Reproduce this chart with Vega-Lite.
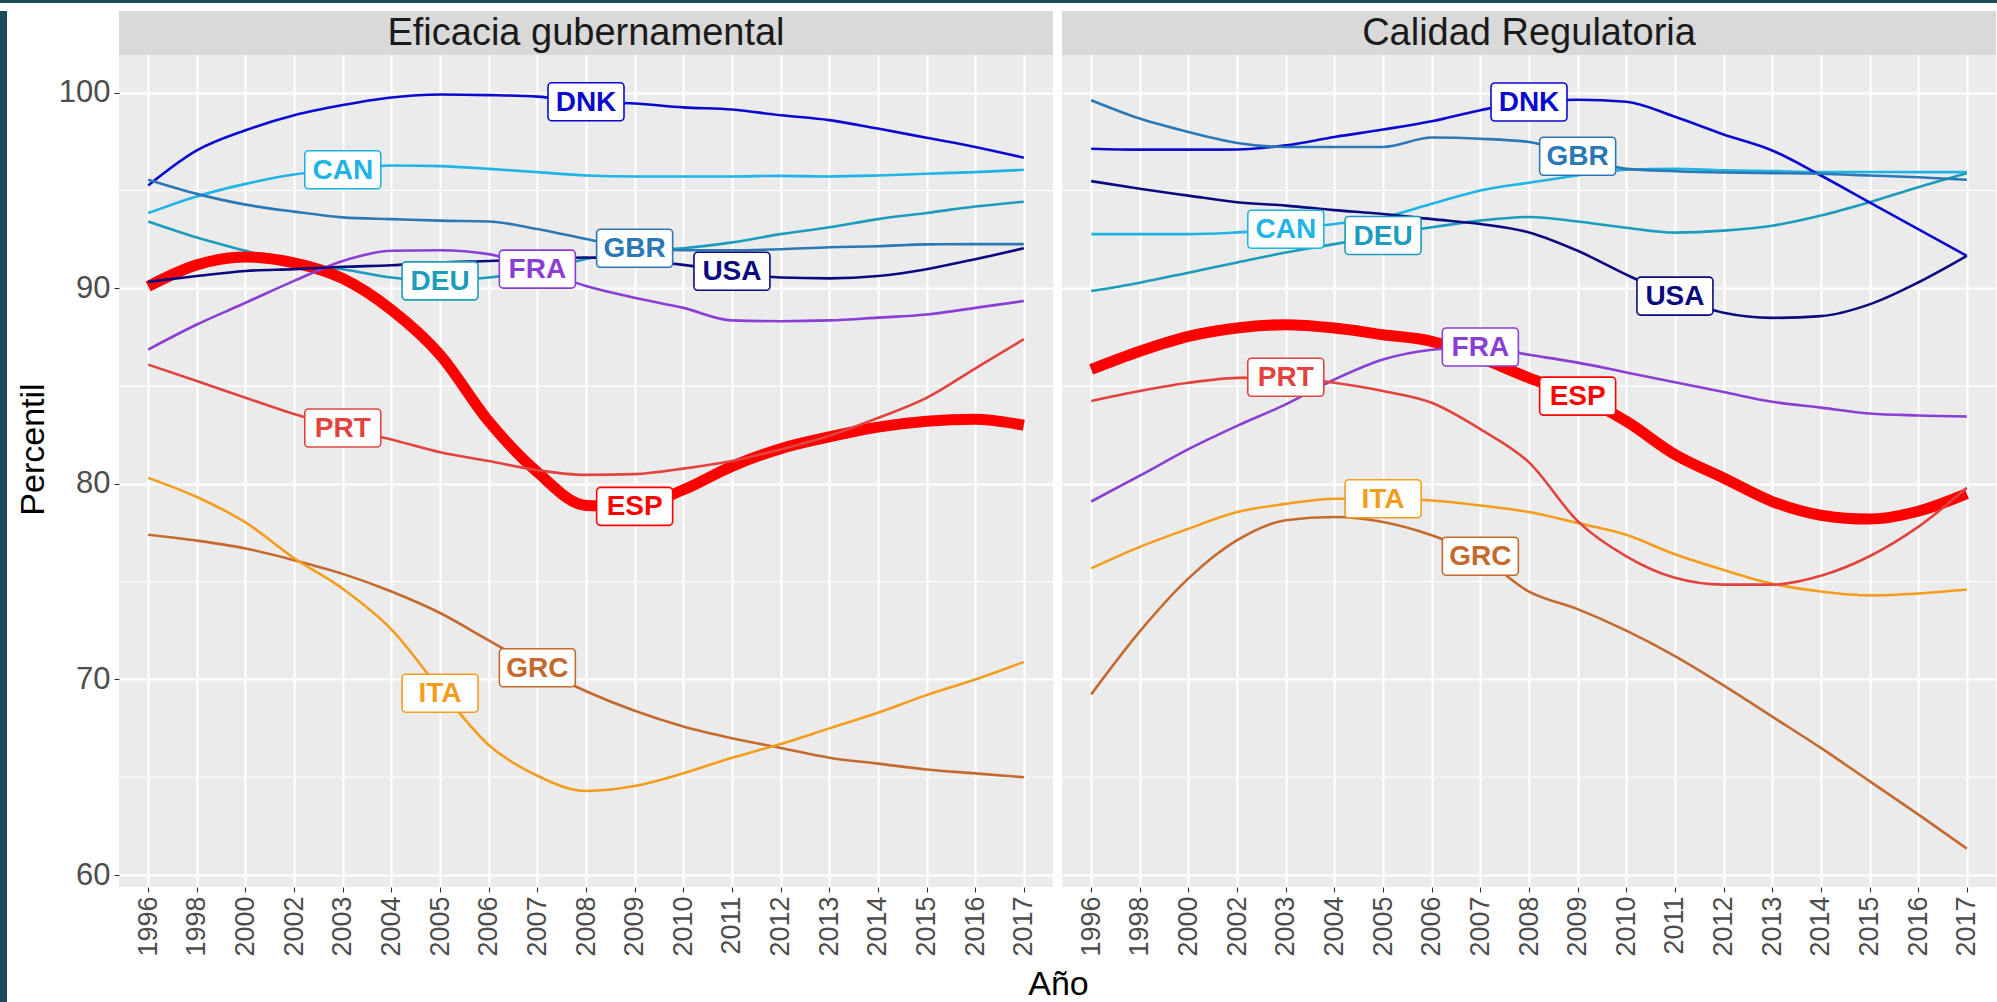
{
"$schema": "https://vega.github.io/schema/vega-lite/v6.json",
"background": "#FFFFFF",
"padding": 0,
"config": {"font": "Liberation Sans", "view": {"stroke": null}},
"datasets": {
"ef": [
{"pais":"CAN","anio":"1996","v":93.85},{"pais":"CAN","anio":"1998","v":94.7},{"pais":"CAN","anio":"2000","v":95.34},{"pais":"CAN","anio":"2002","v":95.82},{"pais":"CAN","anio":"2003","v":96.06},{"pais":"CAN","anio":"2004","v":96.28},{"pais":"CAN","anio":"2005","v":96.25},{"pais":"CAN","anio":"2006","v":96.11},{"pais":"CAN","anio":"2007","v":95.94},{"pais":"CAN","anio":"2008","v":95.77},{"pais":"CAN","anio":"2009","v":95.72},{"pais":"CAN","anio":"2010","v":95.72},{"pais":"CAN","anio":"2011","v":95.72},{"pais":"CAN","anio":"2012","v":95.75},{"pais":"CAN","anio":"2013","v":95.72},{"pais":"CAN","anio":"2014","v":95.77},{"pais":"CAN","anio":"2015","v":95.86},{"pais":"CAN","anio":"2016","v":95.94},{"pais":"CAN","anio":"2017","v":96.06},
{"pais":"DEU","anio":"1996","v":93.42},{"pais":"DEU","anio":"1998","v":92.6},{"pais":"DEU","anio":"2000","v":91.92},{"pais":"DEU","anio":"2002","v":91.23},{"pais":"DEU","anio":"2003","v":90.98},{"pais":"DEU","anio":"2004","v":90.55},{"pais":"DEU","anio":"2005","v":90.38},{"pais":"DEU","anio":"2006","v":90.55},{"pais":"DEU","anio":"2007","v":90.9},{"pais":"DEU","anio":"2008","v":91.5},{"pais":"DEU","anio":"2009","v":91.92},{"pais":"DEU","anio":"2010","v":92.05},{"pais":"DEU","anio":"2011","v":92.35},{"pais":"DEU","anio":"2012","v":92.77},{"pais":"DEU","anio":"2013","v":93.12},{"pais":"DEU","anio":"2014","v":93.54},{"pais":"DEU","anio":"2015","v":93.85},{"pais":"DEU","anio":"2016","v":94.18},{"pais":"DEU","anio":"2017","v":94.43},
{"pais":"DNK","anio":"1996","v":95.26},{"pais":"DNK","anio":"1998","v":97.05},{"pais":"DNK","anio":"2000","v":98.08},{"pais":"DNK","anio":"2002","v":98.85},{"pais":"DNK","anio":"2003","v":99.37},{"pais":"DNK","anio":"2004","v":99.76},{"pais":"DNK","anio":"2005","v":99.91},{"pais":"DNK","anio":"2006","v":99.88},{"pais":"DNK","anio":"2007","v":99.8},{"pais":"DNK","anio":"2008","v":99.54},{"pais":"DNK","anio":"2009","v":99.45},{"pais":"DNK","anio":"2010","v":99.25},{"pais":"DNK","anio":"2011","v":99.14},{"pais":"DNK","anio":"2012","v":98.85},{"pais":"DNK","anio":"2013","v":98.6},{"pais":"DNK","anio":"2014","v":98.17},{"pais":"DNK","anio":"2015","v":97.7},{"pais":"DNK","anio":"2016","v":97.23},{"pais":"DNK","anio":"2017","v":96.68},
{"pais":"ESP","anio":"1996","v":90.1},{"pais":"ESP","anio":"1998","v":91.2},{"pais":"ESP","anio":"2000","v":91.6},{"pais":"ESP","anio":"2002","v":91.3},{"pais":"ESP","anio":"2003","v":90.5},{"pais":"ESP","anio":"2004","v":88.9},{"pais":"ESP","anio":"2005","v":86.6},{"pais":"ESP","anio":"2006","v":83.2},{"pais":"ESP","anio":"2007","v":80.6},{"pais":"ESP","anio":"2008","v":78.9},{"pais":"ESP","anio":"2009","v":78.85},{"pais":"ESP","anio":"2010","v":79.7},{"pais":"ESP","anio":"2011","v":80.9},{"pais":"ESP","anio":"2012","v":81.8},{"pais":"ESP","anio":"2013","v":82.4},{"pais":"ESP","anio":"2014","v":82.9},{"pais":"ESP","anio":"2015","v":83.2},{"pais":"ESP","anio":"2016","v":83.3},{"pais":"ESP","anio":"2017","v":83.0},
{"pais":"FRA","anio":"1996","v":86.87},{"pais":"FRA","anio":"1998","v":88.15},{"pais":"FRA","anio":"2000","v":89.26},{"pais":"FRA","anio":"2002","v":90.38},{"pais":"FRA","anio":"2003","v":91.4},{"pais":"FRA","anio":"2004","v":91.92},{"pais":"FRA","anio":"2005","v":91.95},{"pais":"FRA","anio":"2006","v":91.75},{"pais":"FRA","anio":"2007","v":90.98},{"pais":"FRA","anio":"2008","v":90.12},{"pais":"FRA","anio":"2009","v":89.52},{"pais":"FRA","anio":"2010","v":89.0},{"pais":"FRA","anio":"2011","v":88.36},{"pais":"FRA","anio":"2012","v":88.32},{"pais":"FRA","anio":"2013","v":88.36},{"pais":"FRA","anio":"2014","v":88.5},{"pais":"FRA","anio":"2015","v":88.66},{"pais":"FRA","anio":"2016","v":89.0},{"pais":"FRA","anio":"2017","v":89.35},
{"pais":"GBR","anio":"1996","v":95.55},{"pais":"GBR","anio":"1998","v":94.83},{"pais":"GBR","anio":"2000","v":94.28},{"pais":"GBR","anio":"2002","v":93.92},{"pais":"GBR","anio":"2003","v":93.63},{"pais":"GBR","anio":"2004","v":93.54},{"pais":"GBR","anio":"2005","v":93.46},{"pais":"GBR","anio":"2006","v":93.42},{"pais":"GBR","anio":"2007","v":93.03},{"pais":"GBR","anio":"2008","v":92.52},{"pais":"GBR","anio":"2009","v":92.05},{"pais":"GBR","anio":"2010","v":91.95},{"pais":"GBR","anio":"2011","v":91.95},{"pais":"GBR","anio":"2012","v":92.0},{"pais":"GBR","anio":"2013","v":92.1},{"pais":"GBR","anio":"2014","v":92.15},{"pais":"GBR","anio":"2015","v":92.25},{"pais":"GBR","anio":"2016","v":92.26},{"pais":"GBR","anio":"2017","v":92.26},
{"pais":"GRC","anio":"1996","v":77.4},{"pais":"GRC","anio":"1998","v":77.1},{"pais":"GRC","anio":"2000","v":76.7},{"pais":"GRC","anio":"2002","v":76.1},{"pais":"GRC","anio":"2003","v":75.4},{"pais":"GRC","anio":"2004","v":74.5},{"pais":"GRC","anio":"2005","v":73.4},{"pais":"GRC","anio":"2006","v":72.0},{"pais":"GRC","anio":"2007","v":70.6},{"pais":"GRC","anio":"2008","v":69.4},{"pais":"GRC","anio":"2009","v":68.4},{"pais":"GRC","anio":"2010","v":67.6},{"pais":"GRC","anio":"2011","v":67.0},{"pais":"GRC","anio":"2012","v":66.5},{"pais":"GRC","anio":"2013","v":66.0},{"pais":"GRC","anio":"2014","v":65.7},{"pais":"GRC","anio":"2015","v":65.4},{"pais":"GRC","anio":"2016","v":65.2},{"pais":"GRC","anio":"2017","v":65.0},
{"pais":"ITA","anio":"1996","v":80.31},{"pais":"ITA","anio":"1998","v":79.33},{"pais":"ITA","anio":"2000","v":78.03},{"pais":"ITA","anio":"2002","v":76.2},{"pais":"ITA","anio":"2003","v":74.64},{"pais":"ITA","anio":"2004","v":72.56},{"pais":"ITA","anio":"2005","v":69.5},{"pais":"ITA","anio":"2006","v":66.65},{"pais":"ITA","anio":"2007","v":65.08},{"pais":"ITA","anio":"2008","v":64.3},{"pais":"ITA","anio":"2009","v":64.55},{"pais":"ITA","anio":"2010","v":65.2},{"pais":"ITA","anio":"2011","v":66.0},{"pais":"ITA","anio":"2012","v":66.7},{"pais":"ITA","anio":"2013","v":67.5},{"pais":"ITA","anio":"2014","v":68.3},{"pais":"ITA","anio":"2015","v":69.2},{"pais":"ITA","anio":"2016","v":70.0},{"pais":"ITA","anio":"2017","v":70.9},
{"pais":"PRT","anio":"1996","v":86.1},{"pais":"PRT","anio":"1998","v":85.26},{"pais":"PRT","anio":"2000","v":84.41},{"pais":"PRT","anio":"2002","v":83.57},{"pais":"PRT","anio":"2003","v":82.86},{"pais":"PRT","anio":"2004","v":82.27},{"pais":"PRT","anio":"2005","v":81.62},{"pais":"PRT","anio":"2006","v":81.17},{"pais":"PRT","anio":"2007","v":80.7},{"pais":"PRT","anio":"2008","v":80.46},{"pais":"PRT","anio":"2009","v":80.5},{"pais":"PRT","anio":"2010","v":80.78},{"pais":"PRT","anio":"2011","v":81.17},{"pais":"PRT","anio":"2012","v":81.76},{"pais":"PRT","anio":"2013","v":82.46},{"pais":"PRT","anio":"2014","v":83.37},{"pais":"PRT","anio":"2015","v":84.4},{"pais":"PRT","anio":"2016","v":85.9},{"pais":"PRT","anio":"2017","v":87.4},
{"pais":"USA","anio":"1996","v":90.33},{"pais":"USA","anio":"1998","v":90.63},{"pais":"USA","anio":"2000","v":90.89},{"pais":"USA","anio":"2002","v":90.98},{"pais":"USA","anio":"2003","v":91.1},{"pais":"USA","anio":"2004","v":91.18},{"pais":"USA","anio":"2005","v":91.32},{"pais":"USA","anio":"2006","v":91.4},{"pais":"USA","anio":"2007","v":91.49},{"pais":"USA","anio":"2008","v":91.58},{"pais":"USA","anio":"2009","v":91.45},{"pais":"USA","anio":"2010","v":91.2},{"pais":"USA","anio":"2011","v":90.87},{"pais":"USA","anio":"2012","v":90.55},{"pais":"USA","anio":"2013","v":90.51},{"pais":"USA","anio":"2014","v":90.63},{"pais":"USA","anio":"2015","v":90.98},{"pais":"USA","anio":"2016","v":91.49},{"pais":"USA","anio":"2017","v":92.05}
],
"efl": [
{"pais":"DNK","anio":"2008","v":99.54},{"pais":"CAN","anio":"2003","v":96.06},{"pais":"GBR","anio":"2009","v":92.05},{"pais":"USA","anio":"2011","v":90.87},{"pais":"DEU","anio":"2005","v":90.38},{"pais":"FRA","anio":"2007","v":90.98},{"pais":"PRT","anio":"2003","v":82.86},{"pais":"ESP","anio":"2009","v":78.85},{"pais":"GRC","anio":"2007","v":70.6},{"pais":"ITA","anio":"2005","v":69.3}
],
"cal": [
{"pais":"CAN","anio":"1996","v":92.77},{"pais":"CAN","anio":"1998","v":92.77},{"pais":"CAN","anio":"2000","v":92.77},{"pais":"CAN","anio":"2002","v":92.86},{"pais":"CAN","anio":"2003","v":93.02},{"pais":"CAN","anio":"2004","v":93.29},{"pais":"CAN","anio":"2005","v":93.63},{"pais":"CAN","anio":"2006","v":94.32},{"pais":"CAN","anio":"2007","v":95.0},{"pais":"CAN","anio":"2008","v":95.4},{"pais":"CAN","anio":"2009","v":95.77},{"pais":"CAN","anio":"2010","v":96.06},{"pais":"CAN","anio":"2011","v":96.11},{"pais":"CAN","anio":"2012","v":96.03},{"pais":"CAN","anio":"2013","v":96.0},{"pais":"CAN","anio":"2014","v":95.95},{"pais":"CAN","anio":"2015","v":95.95},{"pais":"CAN","anio":"2016","v":95.94},{"pais":"CAN","anio":"2017","v":95.94},
{"pais":"DEU","anio":"1996","v":89.86},{"pais":"DEU","anio":"1998","v":90.29},{"pais":"DEU","anio":"2000","v":90.8},{"pais":"DEU","anio":"2002","v":91.32},{"pais":"DEU","anio":"2003","v":91.83},{"pais":"DEU","anio":"2004","v":92.26},{"pais":"DEU","anio":"2005","v":92.7},{"pais":"DEU","anio":"2006","v":93.12},{"pais":"DEU","anio":"2007","v":93.46},{"pais":"DEU","anio":"2008","v":93.65},{"pais":"DEU","anio":"2009","v":93.42},{"pais":"DEU","anio":"2010","v":93.1},{"pais":"DEU","anio":"2011","v":92.85},{"pais":"DEU","anio":"2012","v":92.95},{"pais":"DEU","anio":"2013","v":93.2},{"pais":"DEU","anio":"2014","v":93.72},{"pais":"DEU","anio":"2015","v":94.4},{"pais":"DEU","anio":"2016","v":95.17},{"pais":"DEU","anio":"2017","v":95.89},
{"pais":"DNK","anio":"1996","v":97.14},{"pais":"DNK","anio":"1998","v":97.09},{"pais":"DNK","anio":"2000","v":97.09},{"pais":"DNK","anio":"2002","v":97.1},{"pais":"DNK","anio":"2003","v":97.31},{"pais":"DNK","anio":"2004","v":97.74},{"pais":"DNK","anio":"2005","v":98.12},{"pais":"DNK","anio":"2006","v":98.54},{"pais":"DNK","anio":"2007","v":99.11},{"pais":"DNK","anio":"2008","v":99.53},{"pais":"DNK","anio":"2009","v":99.64},{"pais":"DNK","anio":"2010","v":99.54},{"pais":"DNK","anio":"2011","v":98.77},{"pais":"DNK","anio":"2012","v":97.87},{"pais":"DNK","anio":"2013","v":97.05},{"pais":"DNK","anio":"2014","v":95.77},{"pais":"DNK","anio":"2015","v":94.4},{"pais":"DNK","anio":"2016","v":93.03},{"pais":"DNK","anio":"2017","v":91.66},
{"pais":"ESP","anio":"1996","v":85.85},{"pais":"ESP","anio":"1998","v":86.78},{"pais":"ESP","anio":"2000","v":87.54},{"pais":"ESP","anio":"2002","v":87.97},{"pais":"ESP","anio":"2003","v":88.14},{"pais":"ESP","anio":"2004","v":87.97},{"pais":"ESP","anio":"2005","v":87.63},{"pais":"ESP","anio":"2006","v":87.29},{"pais":"ESP","anio":"2007","v":86.44},{"pais":"ESP","anio":"2008","v":85.42},{"pais":"ESP","anio":"2009","v":84.49},{"pais":"ESP","anio":"2010","v":83.2},{"pais":"ESP","anio":"2011","v":81.5},{"pais":"ESP","anio":"2012","v":80.3},{"pais":"ESP","anio":"2013","v":79.1},{"pais":"ESP","anio":"2014","v":78.4},{"pais":"ESP","anio":"2015","v":78.2},{"pais":"ESP","anio":"2016","v":78.6},{"pais":"ESP","anio":"2017","v":79.5},
{"pais":"FRA","anio":"1996","v":79.1},{"pais":"FRA","anio":"1998","v":80.42},{"pais":"FRA","anio":"2000","v":81.78},{"pais":"FRA","anio":"2002","v":82.97},{"pais":"FRA","anio":"2003","v":84.07},{"pais":"FRA","anio":"2004","v":85.34},{"pais":"FRA","anio":"2005","v":86.36},{"pais":"FRA","anio":"2006","v":86.86},{"pais":"FRA","anio":"2007","v":87.0},{"pais":"FRA","anio":"2008","v":86.6},{"pais":"FRA","anio":"2009","v":86.2},{"pais":"FRA","anio":"2010","v":85.7},{"pais":"FRA","anio":"2011","v":85.2},{"pais":"FRA","anio":"2012","v":84.7},{"pais":"FRA","anio":"2013","v":84.2},{"pais":"FRA","anio":"2014","v":83.9},{"pais":"FRA","anio":"2015","v":83.6},{"pais":"FRA","anio":"2016","v":83.5},{"pais":"FRA","anio":"2017","v":83.45},
{"pais":"GBR","anio":"1996","v":99.62},{"pais":"GBR","anio":"1998","v":98.68},{"pais":"GBR","anio":"2000","v":97.99},{"pais":"GBR","anio":"2002","v":97.43},{"pais":"GBR","anio":"2003","v":97.23},{"pais":"GBR","anio":"2004","v":97.23},{"pais":"GBR","anio":"2005","v":97.23},{"pais":"GBR","anio":"2006","v":97.71},{"pais":"GBR","anio":"2007","v":97.65},{"pais":"GBR","anio":"2008","v":97.48},{"pais":"GBR","anio":"2009","v":96.75},{"pais":"GBR","anio":"2010","v":96.11},{"pais":"GBR","anio":"2011","v":95.99},{"pais":"GBR","anio":"2012","v":95.92},{"pais":"GBR","anio":"2013","v":95.89},{"pais":"GBR","anio":"2014","v":95.86},{"pais":"GBR","anio":"2015","v":95.77},{"pais":"GBR","anio":"2016","v":95.68},{"pais":"GBR","anio":"2017","v":95.55},
{"pais":"GRC","anio":"1996","v":69.24},{"pais":"GRC","anio":"1998","v":72.46},{"pais":"GRC","anio":"2000","v":75.17},{"pais":"GRC","anio":"2002","v":77.12},{"pais":"GRC","anio":"2003","v":78.14},{"pais":"GRC","anio":"2004","v":78.31},{"pais":"GRC","anio":"2005","v":78.05},{"pais":"GRC","anio":"2006","v":77.37},{"pais":"GRC","anio":"2007","v":76.3},{"pais":"GRC","anio":"2008","v":74.49},{"pais":"GRC","anio":"2009","v":73.6},{"pais":"GRC","anio":"2010","v":72.5},{"pais":"GRC","anio":"2011","v":71.2},{"pais":"GRC","anio":"2012","v":69.7},{"pais":"GRC","anio":"2013","v":68.1},{"pais":"GRC","anio":"2014","v":66.5},{"pais":"GRC","anio":"2015","v":64.8},{"pais":"GRC","anio":"2016","v":63.1},{"pais":"GRC","anio":"2017","v":61.35},
{"pais":"ITA","anio":"1996","v":75.68},{"pais":"ITA","anio":"1998","v":76.78},{"pais":"ITA","anio":"2000","v":77.71},{"pais":"ITA","anio":"2002","v":78.56},{"pais":"ITA","anio":"2003","v":78.98},{"pais":"ITA","anio":"2004","v":79.24},{"pais":"ITA","anio":"2005","v":79.24},{"pais":"ITA","anio":"2006","v":79.15},{"pais":"ITA","anio":"2007","v":78.9},{"pais":"ITA","anio":"2008","v":78.56},{"pais":"ITA","anio":"2009","v":78.0},{"pais":"ITA","anio":"2010","v":77.4},{"pais":"ITA","anio":"2011","v":76.4},{"pais":"ITA","anio":"2012","v":75.6},{"pais":"ITA","anio":"2013","v":74.9},{"pais":"ITA","anio":"2014","v":74.5},{"pais":"ITA","anio":"2015","v":74.3},{"pais":"ITA","anio":"2016","v":74.4},{"pais":"ITA","anio":"2017","v":74.6},
{"pais":"PRT","anio":"1996","v":84.24},{"pais":"PRT","anio":"1998","v":84.75},{"pais":"PRT","anio":"2000","v":85.17},{"pais":"PRT","anio":"2002","v":85.42},{"pais":"PRT","anio":"2003","v":85.45},{"pais":"PRT","anio":"2004","v":85.17},{"pais":"PRT","anio":"2005","v":84.75},{"pais":"PRT","anio":"2006","v":84.15},{"pais":"PRT","anio":"2007","v":82.8},{"pais":"PRT","anio":"2008","v":81.1},{"pais":"PRT","anio":"2009","v":78.1},{"pais":"PRT","anio":"2010","v":76.3},{"pais":"PRT","anio":"2011","v":75.2},{"pais":"PRT","anio":"2012","v":74.85},{"pais":"PRT","anio":"2013","v":74.85},{"pais":"PRT","anio":"2014","v":75.3},{"pais":"PRT","anio":"2015","v":76.3},{"pais":"PRT","anio":"2016","v":77.8},{"pais":"PRT","anio":"2017","v":79.8},
{"pais":"USA","anio":"1996","v":95.48},{"pais":"USA","anio":"1998","v":95.09},{"pais":"USA","anio":"2000","v":94.74},{"pais":"USA","anio":"2002","v":94.4},{"pais":"USA","anio":"2003","v":94.23},{"pais":"USA","anio":"2004","v":94.0},{"pais":"USA","anio":"2005","v":93.8},{"pais":"USA","anio":"2006","v":93.54},{"pais":"USA","anio":"2007","v":93.29},{"pais":"USA","anio":"2008","v":92.86},{"pais":"USA","anio":"2009","v":91.92},{"pais":"USA","anio":"2010","v":90.7},{"pais":"USA","anio":"2011","v":89.6},{"pais":"USA","anio":"2012","v":88.75},{"pais":"USA","anio":"2013","v":88.49},{"pais":"USA","anio":"2014","v":88.58},{"pais":"USA","anio":"2015","v":89.18},{"pais":"USA","anio":"2016","v":90.3},{"pais":"USA","anio":"2017","v":91.66}
],
"call": [
{"pais":"DNK","anio":"2008","v":99.53},{"pais":"GBR","anio":"2009","v":96.75},{"pais":"CAN","anio":"2003","v":93.02},{"pais":"DEU","anio":"2005","v":92.7},{"pais":"USA","anio":"2011","v":89.6},{"pais":"FRA","anio":"2007","v":87.0},{"pais":"PRT","anio":"2003","v":85.45},{"pais":"ESP","anio":"2009","v":84.49},{"pais":"ITA","anio":"2005","v":79.24},{"pais":"GRC","anio":"2007","v":76.3}
],
"minor": [{"g":65},{"g":75},{"g":85},{"g":95}]
},
"vconcat": [
{"width": 1997, "height": 3, "data": {"values": []}, "mark": "rect", "encoding": {}, "view": {"fill": "#1B4B59", "stroke": null}},
{"hconcat": [
  {"width": 7, "height": 991, "data": {"values": []}, "mark": "rect", "encoding": {}, "view": {"fill": "#1B4B59", "stroke": null}},
  {"hconcat": [
    {"width": 934, "height": 876, "view": {"fill": "#EBEBEB", "stroke": null},
     "layer": [
      {"data": {"name": "minor"}, "mark": {"type": "rule", "color": "#FFFFFF", "strokeWidth": 1.1},
       "encoding": {"y": {"field": "g", "type": "quantitative", "scale": {"domain": [59.39, 104.18], "nice": false, "zero": false},
         "axis": {"title": "Percentil", "values": [60,70,80,90,100], "labelFont": "Liberation Sans", "labelFontSize": 31, "labelColor": "#4D4D4D", "labelPadding": 4, "tickColor": "#333333", "tickSize": 5, "tickWidth": 1.1, "domain": false, "grid": true, "gridColor": "#FFFFFF", "gridWidth": 2.2, "titleFont": "Liberation Sans", "titleFontSize": 34, "titleFontWeight": "normal", "titleColor": "#000000", "titlePadding": 8}}}},
      {"data": {"name": "ef"}, "mark": {"type": "line", "interpolate": "monotone"},
       "encoding": {
        "x": {"field": "anio", "type": "ordinal", "scale": {"type": "point", "padding": 0.6, "domain": ["1996","1998","2000","2002","2003","2004","2005","2006","2007","2008","2009","2010","2011","2012","2013","2014","2015","2016","2017"]},
          "axis": {"title": null, "labelAngle": -90, "labelFont": "Liberation Sans", "labelFontSize": 27, "labelColor": "#4D4D4D", "labelPadding": 4, "tickColor": "#333333", "tickSize": 5, "tickWidth": 1.1, "domain": false, "grid": true, "gridColor": "#FFFFFF", "gridWidth": 2.2}},
        "y": {"field": "v", "type": "quantitative", "scale": {"domain": [59.39, 104.18], "nice": false, "zero": false},
          "axis": {"title": "Percentil", "values": [60,70,80,90,100], "labelFont": "Liberation Sans", "labelFontSize": 31, "labelColor": "#4D4D4D", "labelPadding": 4, "tickColor": "#333333", "tickSize": 5, "tickWidth": 1.1, "domain": false, "grid": true, "gridColor": "#FFFFFF", "gridWidth": 2.2, "titleFont": "Liberation Sans", "titleFontSize": 34, "titleFontWeight": "normal", "titleColor": "#000000", "titlePadding": 8}},
        "color": {"field": "pais", "type": "nominal", "legend": null, "scale": {"domain": ["CAN","DEU","DNK","ESP","FRA","GBR","GRC","ITA","PRT","USA"], "range": ["#1EB4E6","#1C9CBC","#0A0ACF","#FF0000","#8A3ED3","#2C78B4","#C56A2E","#F49C1C","#E2433F","#0A0A7E"]}},
        "strokeWidth": {"condition": {"test": "datum.pais === 'ESP'", "value": 11}, "value": 2.6}}},
      {"data": {"name": "efl"}, "mark": {"type": "point", "shape": "M-0.9,-0.5H0.9A0.1,0.1,0,0,1,1,-0.4V0.4A0.1,0.1,0,0,1,0.9,0.5H-0.9A0.1,0.1,0,0,1,-1,0.4V-0.4A0.1,0.1,0,0,1,-0.9,-0.5Z", "size": 5776, "filled": true, "fill": "#FFFFFF", "fillOpacity": 1, "opacity": 1, "strokeWidth": 1.6},
       "encoding": {
        "x": {"field": "anio", "type": "ordinal"},
        "y": {"field": "v", "type": "quantitative"},
        "stroke": {"field": "pais", "type": "nominal", "legend": null, "scale": {"domain": ["CAN","DEU","DNK","ESP","FRA","GBR","GRC","ITA","PRT","USA"], "range": ["#1EB4E6","#1C9CBC","#0A0ACF","#FF0000","#8A3ED3","#2C78B4","#C56A2E","#F49C1C","#E2433F","#0A0A7E"]}}}},
      {"data": {"name": "efl"}, "mark": {"type": "text", "font": "Liberation Sans", "fontWeight": "bold", "fontSize": 28, "baseline": "middle", "dy": 1},
       "encoding": {
        "x": {"field": "anio", "type": "ordinal"},
        "y": {"field": "v", "type": "quantitative"},
        "text": {"field": "pais", "type": "nominal"},
        "color": {"field": "pais", "type": "nominal", "legend": null}}},
      {"data": {"values": [{"t": "Eficacia gubernamental"}]}, "mark": {"type": "rect", "color": "#D9D9D9"},
       "encoding": {"y": {"datum": 101.93, "type": "quantitative"}, "y2": {"datum": 104.18}}},
      {"data": {"values": [{"t": "Eficacia gubernamental"}]}, "mark": {"type": "text", "font": "Liberation Sans", "fontSize": 38, "color": "#1A1A1A", "baseline": "middle", "dy": 1},
       "encoding": {"y": {"datum": 103.055, "type": "quantitative"}, "text": {"field": "t", "type": "nominal"}}}
     ]},
    {"width": 934, "height": 876, "view": {"fill": "#EBEBEB", "stroke": null},
     "layer": [
      {"data": {"name": "minor"}, "mark": {"type": "rule", "color": "#FFFFFF", "strokeWidth": 1.1},
       "encoding": {"y": {"field": "g", "type": "quantitative", "scale": {"domain": [59.39, 104.18], "nice": false, "zero": false},
         "axis": {"title": null, "values": [60,70,80,90,100], "labels": false, "ticks": false, "domain": false, "grid": true, "gridColor": "#FFFFFF", "gridWidth": 2.2}}}},
      {"data": {"name": "cal"}, "mark": {"type": "line", "interpolate": "monotone"},
       "encoding": {
        "x": {"field": "anio", "type": "ordinal", "scale": {"type": "point", "padding": 0.6, "domain": ["1996","1998","2000","2002","2003","2004","2005","2006","2007","2008","2009","2010","2011","2012","2013","2014","2015","2016","2017"]},
          "axis": {"title": "Año", "titleX": -4, "titlePadding": 11, "titleFont": "Liberation Sans", "titleFontSize": 34, "titleFontWeight": "normal", "titleColor": "#000000", "labelAngle": -90, "labelFont": "Liberation Sans", "labelFontSize": 27, "labelColor": "#4D4D4D", "labelPadding": 4, "tickColor": "#333333", "tickSize": 5, "tickWidth": 1.1, "domain": false, "grid": true, "gridColor": "#FFFFFF", "gridWidth": 2.2}},
        "y": {"field": "v", "type": "quantitative", "scale": {"domain": [59.39, 104.18], "nice": false, "zero": false},
          "axis": {"title": null, "values": [60,70,80,90,100], "labels": false, "ticks": false, "domain": false, "grid": true, "gridColor": "#FFFFFF", "gridWidth": 2.2}},
        "color": {"field": "pais", "type": "nominal", "legend": null, "scale": {"domain": ["CAN","DEU","DNK","ESP","FRA","GBR","GRC","ITA","PRT","USA"], "range": ["#1EB4E6","#1C9CBC","#0A0ACF","#FF0000","#8A3ED3","#2C78B4","#C56A2E","#F49C1C","#E2433F","#0A0A7E"]}},
        "strokeWidth": {"condition": {"test": "datum.pais === 'ESP'", "value": 11}, "value": 2.6}}},
      {"data": {"name": "call"}, "mark": {"type": "point", "shape": "M-0.9,-0.5H0.9A0.1,0.1,0,0,1,1,-0.4V0.4A0.1,0.1,0,0,1,0.9,0.5H-0.9A0.1,0.1,0,0,1,-1,0.4V-0.4A0.1,0.1,0,0,1,-0.9,-0.5Z", "size": 5776, "filled": true, "fill": "#FFFFFF", "fillOpacity": 1, "opacity": 1, "strokeWidth": 1.6},
       "encoding": {
        "x": {"field": "anio", "type": "ordinal"},
        "y": {"field": "v", "type": "quantitative"},
        "stroke": {"field": "pais", "type": "nominal", "legend": null, "scale": {"domain": ["CAN","DEU","DNK","ESP","FRA","GBR","GRC","ITA","PRT","USA"], "range": ["#1EB4E6","#1C9CBC","#0A0ACF","#FF0000","#8A3ED3","#2C78B4","#C56A2E","#F49C1C","#E2433F","#0A0A7E"]}}}},
      {"data": {"name": "call"}, "mark": {"type": "text", "font": "Liberation Sans", "fontWeight": "bold", "fontSize": 28, "baseline": "middle", "dy": 1},
       "encoding": {
        "x": {"field": "anio", "type": "ordinal"},
        "y": {"field": "v", "type": "quantitative"},
        "text": {"field": "pais", "type": "nominal"},
        "color": {"field": "pais", "type": "nominal", "legend": null}}},
      {"data": {"values": [{"t": "Calidad Regulatoria"}]}, "mark": {"type": "rect", "color": "#D9D9D9"},
       "encoding": {"y": {"datum": 101.93, "type": "quantitative"}, "y2": {"datum": 104.18}}},
      {"data": {"values": [{"t": "Calidad Regulatoria"}]}, "mark": {"type": "text", "font": "Liberation Sans", "fontSize": 38, "color": "#1A1A1A", "baseline": "middle", "dy": 1},
       "encoding": {"y": {"datum": 103.055, "type": "quantitative"}, "text": {"field": "t", "type": "nominal"}}}
     ]}
  ], "spacing": 9, "bounds": "flush"}
], "spacing": 112, "bounds": "flush"}
],
"spacing": 8,
"bounds": "flush"
}
